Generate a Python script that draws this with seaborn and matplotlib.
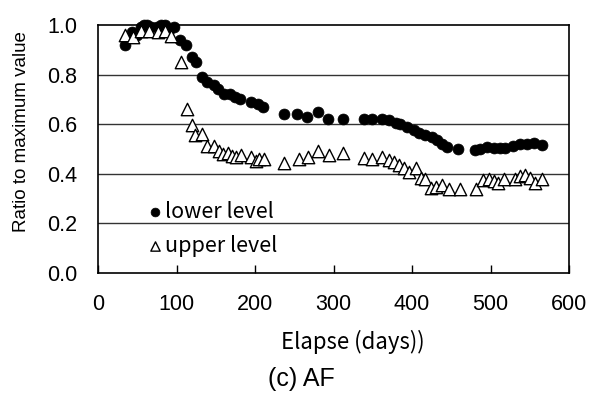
import matplotlib
matplotlib.use("Agg")
import matplotlib.pyplot as plt
import seaborn as sns
import pandas as pd

lower_days = [35, 43, 50, 55, 58, 63, 68, 75, 80, 85, 90, 97, 104, 112, 120, 125,
              133, 139, 148, 153, 161, 168, 175, 181, 195, 204, 210, 237, 254, 266,
              280, 293, 312, 339, 349, 362, 371, 379, 385, 394, 402, 409, 417, 426,
              432, 438, 445, 459, 480, 487, 495, 504, 512, 519, 529, 538, 546, 555, 565]
lower_vals = [0.92, 0.97, 0.96, 0.99, 1.0, 1.0, 0.99, 0.99, 1.0, 1.0, 0.98, 0.99, 0.94,
              0.92, 0.87, 0.85, 0.79, 0.77, 0.76, 0.74, 0.72, 0.72, 0.71, 0.70, 0.69,
              0.68, 0.67, 0.64, 0.64, 0.63, 0.65, 0.62, 0.62, 0.62, 0.62, 0.62, 0.615,
              0.605, 0.60, 0.59, 0.576, 0.565, 0.555, 0.55, 0.535, 0.52, 0.51, 0.50,
              0.495, 0.50, 0.507, 0.505, 0.503, 0.505, 0.514, 0.52, 0.522, 0.525, 0.515]

upper_days = [35, 45, 55, 65, 76, 85, 93, 106, 113, 120, 124, 133, 139, 148, 154, 159,
              165, 171, 176, 182, 195, 201, 205, 211, 237, 256, 267, 280, 294, 312, 339,
              349, 362, 371, 377, 383, 390, 396, 405, 411, 417, 424, 430, 438, 447, 461,
              481, 490, 498, 504, 510, 517, 531, 538, 544, 550, 557, 566]
upper_vals = [0.96, 0.95, 0.975, 0.975, 0.97, 0.975, 0.955, 0.85, 0.66, 0.595, 0.558,
              0.562, 0.511, 0.511, 0.491, 0.478, 0.482, 0.471, 0.467, 0.474, 0.469,
              0.451, 0.458, 0.458, 0.445, 0.461, 0.469, 0.491, 0.474, 0.482, 0.465,
              0.458, 0.469, 0.455, 0.447, 0.434, 0.424, 0.407, 0.424, 0.384, 0.378,
              0.344, 0.348, 0.353, 0.34, 0.34, 0.337, 0.375, 0.378, 0.371, 0.364,
              0.378, 0.38, 0.391, 0.394, 0.384, 0.364, 0.38]

x_ticks = [0, 100, 200, 300, 400, 500, 600]
y_ticks = [0.0, 0.2, 0.4, 0.6, 0.8, 1.0]

sns.set_theme(style="white")
plt.rcParams['font.family'] = ['Liberation Sans', 'DejaVu Sans']
CJK = ["Noto Sans CJK JP", "DejaVu Sans"]

fig = plt.figure(figsize=(5.9, 3.94), dpi=100)
ax = fig.add_axes([98/590, 1 - 273/394, (569-98)/590, (273-25)/394])

df_low = pd.DataFrame({"day": lower_days, "val": lower_vals})
df_up = pd.DataFrame({"day": upper_days, "val": upper_vals})

sns.scatterplot(data=df_low, x="day", y="val", ax=ax, marker="o", color="black",
                s=62, edgecolor="black", linewidth=0.5, label="lower level",
                zorder=3, clip_on=False)
sns.scatterplot(data=df_up, x="day", y="val", ax=ax, marker="^", color="white",
                s=80, edgecolor="black", linewidth=1.0, label="upper level",
                zorder=4, clip_on=False)

ax.set_xlim(0, 600)
ax.set_ylim(0, 1.0)
ax.set_xticks(x_ticks)
ax.set_yticks(y_ticks)
ax.set_yticklabels([f"{v:.1f}" for v in y_ticks])
ax.set_xlabel("")
ax.set_ylabel("")
ax.tick_params(axis="x", direction="in", length=6, width=1, color="black",
               labelsize=15.5, pad=15, bottom=True)
ax.tick_params(axis="y", length=0, labelsize=15.5, pad=15)
for lab in ax.get_xticklabels() + ax.get_yticklabels():
    lab.set_color("black")

for v in y_ticks[1:-1]:
    ax.axhline(v, color="#333333", linewidth=1.0, zorder=1)
for sp in ax.spines.values():
    sp.set_visible(True)
    sp.set_color("black")
    sp.set_linewidth(1.2)

leg = ax.legend(loc="upper left", bbox_to_anchor=(0.085, 0.325), frameon=False,
                handletextpad=0.05, labelspacing=0.55, handlelength=0.8,
                borderaxespad=0, prop={"family": CJK, "size": 15.5})
for t in leg.get_texts():
    t.set_color("black")
for h, sz in zip(leg.legend_handles, [40, 45]):
    h.set_sizes([sz])

fig.text(22/590, 1 - 132/394, "Ratio to maximum value", rotation=90, ha="center",
         va="center", fontsize=13.5, color="black")
fig.text(353/590, 1 - 342/394, "Elapse (days))", ha="center", va="center",
         fontsize=16, color="black", family=CJK)
fig.text(301/590, 1 - 379/394, "(c) AF", ha="center", va="center",
         fontsize=18, color="black")

fig.savefig("out.png", dpi=100)
